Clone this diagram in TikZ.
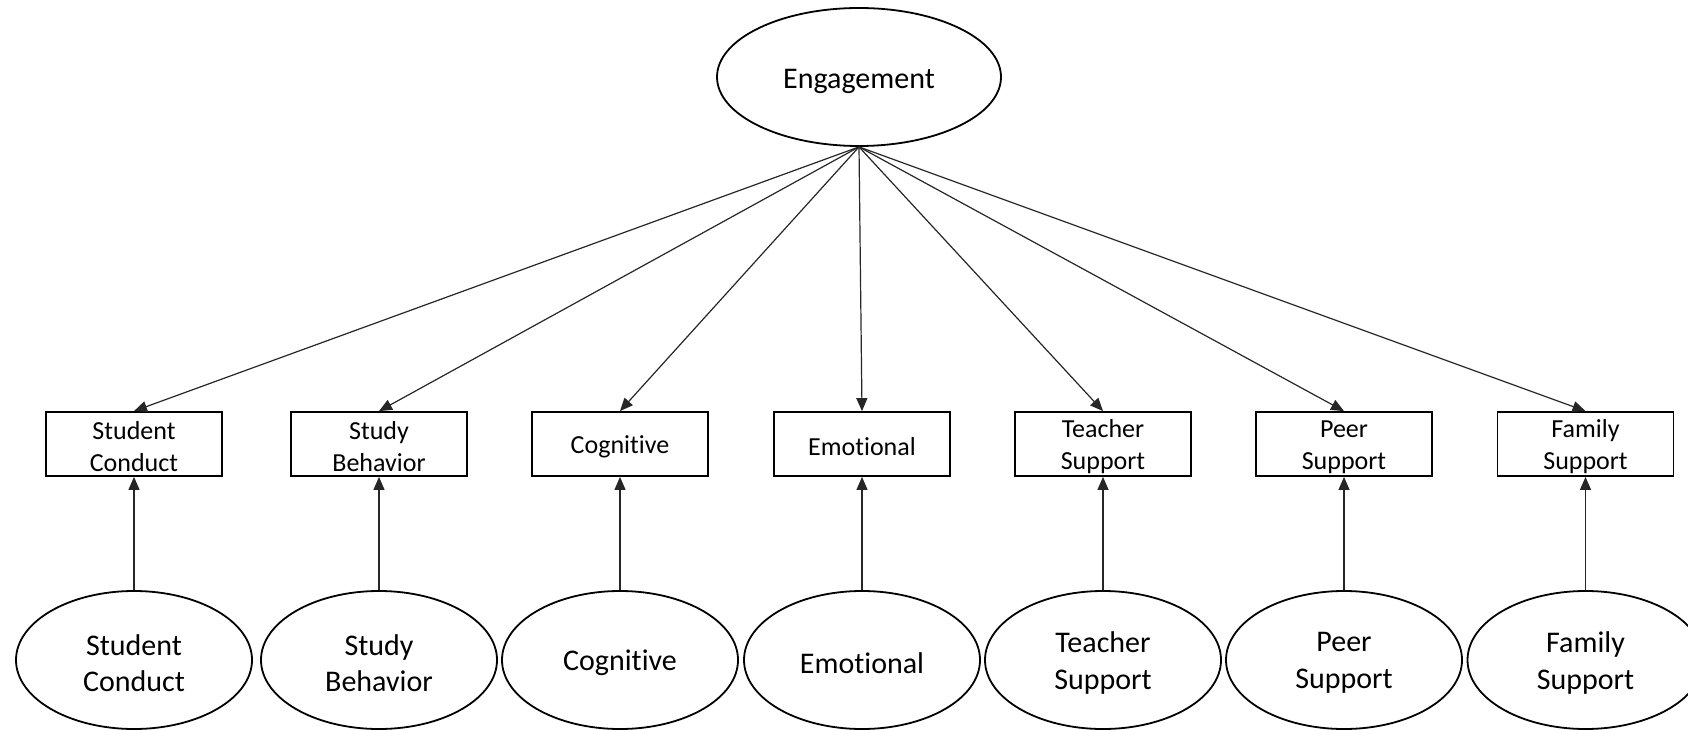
\documentclass[tikz,border=0pt]{standalone}
\usepackage{fontspec}
\setmainfont[Ligatures={NoCommon}]{Carlito}
\usetikzlibrary{shapes.geometric,arrows.meta}
\tikzset{
  latent/.style={draw, ellipse, line width=1.8pt, minimum width=236pt, minimum height=138pt, inner sep=0pt},
  obsbox/.style={draw, rectangle, line width=1.8pt, minimum width=176pt, minimum height=64pt, inner sep=0pt},
  bigtxt/.style={align=center, inner sep=0pt, font=\fontsize{30}{36.6}\selectfont},
  smalltxt/.style={align=center, inner sep=0pt, font=\fontsize{26}{32}\selectfont},
  link/.style={draw=black!85, line width=1.2pt, -{Triangle[length=13pt,width=11pt]}}
}
\begin{document}
\begin{tikzpicture}[x=1pt,y=-1pt]
\useasboundingbox (0,0) rectangle (1688,730);
\clip (0,0) rectangle (1688,730);
\node[latent, minimum width=284pt, minimum height=138pt] (eng) at (859,77) {};
\node[bigtxt] (engt) at ([yshift=-4pt]eng.center) {Engagement};
\foreach \nm/\xx/\txt in {sc/134/{Student\\Conduct}, sb/379/{Study\\Behavior}, cog/620/{Cognitive}, emo/862/{Emotional}, ts/1103/{Teacher\\Support}, ps/1344/{Peer\\Support}, fs/1585.5/{Family\\Support}}{
  \node[obsbox] (b\nm) at (\xx,444) {};
  \node[smalltxt] (bt\nm) at ([yshift=-3pt]b\nm.center) {\txt};
  \node[latent] (l\nm) at (\xx,660) {};
  \node[bigtxt] (lt\nm) at ([yshift=-3pt]l\nm.center) {\txt};
  \draw[link] (eng.south) -- (b\nm.north);
  \draw[link] (l\nm.north) -- (b\nm.south);
}
\end{tikzpicture}
\end{document}
